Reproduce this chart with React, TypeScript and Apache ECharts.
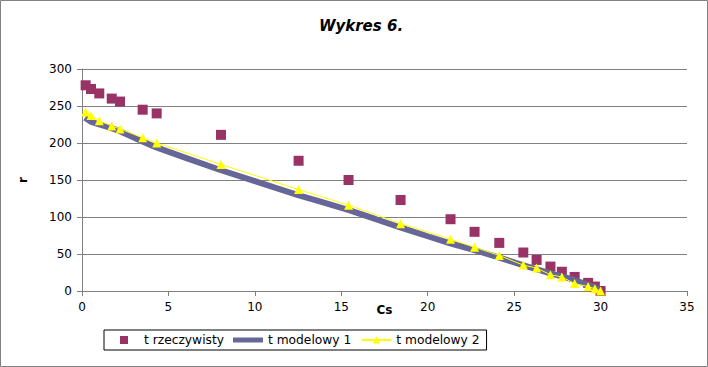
import React, { useEffect, useRef } from "react";
import * as echarts from "echarts";

const title = "Wykres 6.";
const xAxisName = "Cs";
const yAxisName = "r";
const seriesNames = ["t rzeczywisty", "t modelowy 1", "t modelowy 2"];

// measured points (Cs, r)
const measuredX = [0.21, 0.52, 1.0, 1.72, 2.2, 3.51, 4.32, 8.04, 12.53, 15.42, 18.43, 21.32, 22.71, 24.14, 25.53, 26.3, 27.1, 27.76, 28.5, 29.28, 29.67, 30.0];
const measuredY = [278, 273, 267, 260, 256, 245, 240, 211, 176, 150, 123, 97, 80, 65, 52, 42, 33, 26, 19, 11, 6, 0];

// model 2 values at the measured Cs
const model2Y = [242, 237, 230, 223, 219, 207, 200, 171, 137, 116, 91, 70, 59, 48, 35, 31, 22, 19, 10, 6, 3, 0];

// model 1 dense curve
const model1X = [0.17, 0.5, 1.0, 1.7, 2.2, 3.5, 4.3, 6.0, 8.0, 10.0, 12.5, 13.8, 15.4, 17.0, 18.4, 20.0, 21.3, 22.7, 24.1, 25.5, 27.1, 28.5, 29.3, 29.7, 30.0];
const model1Y = [234, 229, 225, 220, 216, 202, 194, 180, 163.5, 148.6, 129.7, 120.7, 109.5, 97, 86, 74, 64.4, 55.4, 45.5, 35, 23.9, 14.9, 8.1, 4.5, 0.5];

const xMin = 0, xMax = 35, xInterval = 5;
const yMin = 0, yMax = 300, yInterval = 50;

const FONT = "DejaVu Sans";

export default function App() {
  const ref = useRef<HTMLDivElement>(null);
  useEffect(() => {
    if (!ref.current) return;
    const chart = echarts.init(ref.current, undefined, { renderer: "svg" });
    const axisGray = "#808080";
    chart.setOption({
      animation: false,
      backgroundColor: "#ffffff",
      textStyle: { fontFamily: FONT },
      title: {
        text: title,
        left: 356,
        top: 13,
        textAlign: "center",
        textStyle: { fontFamily: FONT, fontSize: 15, fontWeight: "bold", fontStyle: "italic", color: "#000" },
      },
      graphic: [
        {
          type: "rect",
          shape: { x: 0.5, y: 0.5, width: 707, height: 366 },
          style: { fill: "none", stroke: "#808080", lineWidth: 1 },
          silent: true,
        },
      ],
      legend: {
        left: 104,
        top: 330,
        orient: "horizontal",
        padding: [4, 7, 4, 5],
        itemGap: 9,
        itemWidth: 30,
        itemHeight: 9,
        borderColor: "#000",
        borderWidth: 1,
        textStyle: { fontFamily: FONT, fontSize: 12.25, color: "#000" },
        data: [
          { name: seriesNames[0], icon: "path://M0,0L0,0M30,9L30,9M11,0.5H19V8.5H11Z" },
          { name: seriesNames[1], icon: "path://M0,0L0,0M30,9L30,9M0,2H30V7H0Z" },
          { name: seriesNames[2] },
        ],
      },
      grid: { left: 82, right: 21, top: 69, bottom: 76, outerBoundsMode: "none" },
      xAxis: {
        type: "value",
        min: xMin,
        max: xMax,
        interval: xInterval,
        name: xAxisName,
        nameLocation: "middle",
        nameGap: 13,
        nameMoveOverlap: false,
        nameTextStyle: { fontFamily: FONT, fontSize: 12, fontWeight: "bold", color: "#000" },
        axisLine: { lineStyle: { color: axisGray, width: 1 } },
        axisTick: { show: true, length: 5, lineStyle: { color: axisGray } },
        axisLabel: { margin: 10, fontFamily: FONT, fontSize: 12, color: "#000" },
        splitLine: { show: false },
      },
      yAxis: {
        type: "value",
        min: yMin,
        max: yMax,
        interval: yInterval,
        name: yAxisName,
        nameLocation: "middle",
        nameGap: 53,
        nameRotate: 90,
        nameMoveOverlap: false,
        nameTextStyle: { fontFamily: FONT, fontSize: 12, fontWeight: "bold", color: "#000" },
        axisLine: { show: true, lineStyle: { color: axisGray, width: 1 } },
        axisTick: { show: true, length: 5, lineStyle: { color: axisGray } },
        axisLabel: { margin: 10, fontFamily: FONT, fontSize: 12, color: "#000" },
        splitLine: { show: true, lineStyle: { color: axisGray, width: 1 } },
      },
      series: [
        {
          name: seriesNames[0],
          type: "scatter",
          symbol: "rect",
          symbolSize: 10,
          itemStyle: { color: "#993366", opacity: 1 },
          data: measuredX.map((x, i) => [x, measuredY[i]]),
          z: 2,
        },
        {
          name: seriesNames[1],
          type: "line",
          showSymbol: false,
          symbol: "none",
          lineStyle: { color: "#666699", width: 6 },
          itemStyle: { color: "#666699" },
          data: model1X.map((x, i) => [x, model1Y[i]]),
          z: 3,
        },
        {
          name: seriesNames[2],
          type: "line",
          symbol: "triangle",
          symbolSize: 9,
          showSymbol: true,
          lineStyle: { color: "#ffff00", width: 1 },
          itemStyle: { color: "#ffff00" },
          data: measuredX.map((x, i) => [x, model2Y[i]]),
          z: 4,
        },
      ],
    });
    return () => chart.dispose();
  }, []);
  return (
    <div
      ref={ref}
      style={{ position: "fixed", left: 0, top: 0, width: 708, height: 367 }}
    />
  );
}
